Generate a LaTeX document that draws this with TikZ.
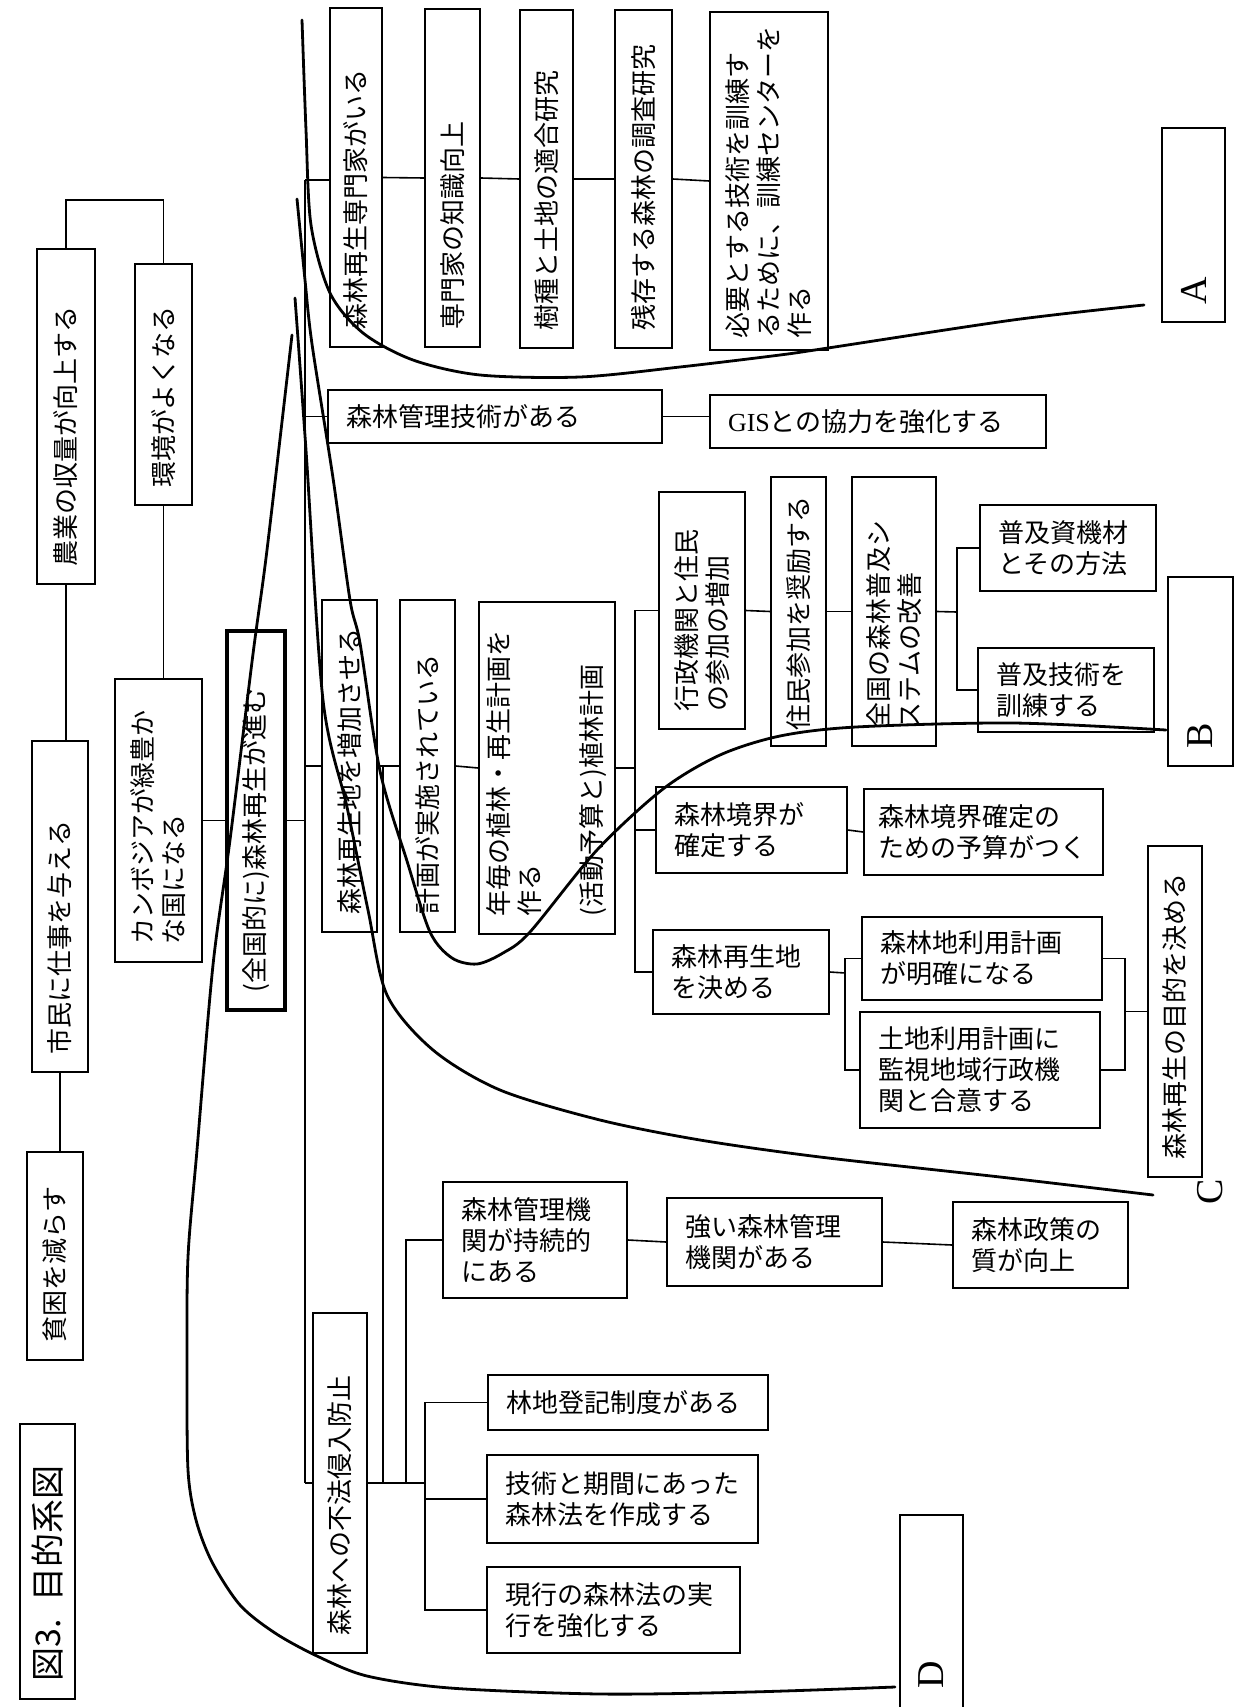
\documentclass[tikz,border=0pt]{standalone}
\usepackage{fontspec}
\setmainfont{Noto Sans CJK JP}
\newfontfamily\lettfont{Liberation Serif}
\tikzset{
    goal/.style={
           rectangle,
           draw=black, line width=1.6pt,
           inner xsep=18pt, inner ysep=0pt,
           align=left,
           font=\fontsize{26}{31}\selectfont,
           },
}
\tikzset{
    upgoal/.style={
           goal,
           rotate=90,
           },
}
\tikzset{
    letter/.style={font=\lettfont\fontsize{38}{38}\selectfont},
    link/.style={line width=1.6pt},
    freehand/.style={line width=2.8pt, line cap=round, line join=round},
}

\begin{document}
\begin{tikzpicture}[x=1pt,y=-1pt]
\fill[white] (0,0) rectangle (1236,1707);
\useasboundingbox (0,0) rectangle (1236,1707);

\node[upgoal, text width=299pt, minimum height=58pt] (nogyo) at (66,416.5) {農業の収量が向上する};
\node[upgoal, text width=205pt, minimum height=57pt] (kankyo) at (163.5,384.5) {環境がよくなる};
\node[upgoal, text width=295pt, minimum height=56pt] (shimin) at (60,906.5) {市民に仕事を与える};
\node[upgoal, text width=172pt, minimum height=56pt] (hinkon) at (55,1256) {貧困を減らす};
\node[upgoal, text width=239pt, minimum height=55pt, font=\fontsize{34}{40}\selectfont] (title) at (47.5,1561.5) {図3. 目的系図};
\node[upgoal, text width=247pt, minimum height=87pt] (kambo) at (158.5,820.5) {カンボジアが緑豊か\\な国になる};
\node[upgoal, line width=4.5pt, text width=343pt, minimum height=58pt] (zenkoku) at (256,820.5) {(全国的に)森林再生が進む};

\node[upgoal, text width=303pt, minimum height=52pt] (senmon) at (356,177.5) {森林再生専門家がいる};
\node[upgoal, text width=302pt, minimum height=55pt] (chishiki) at (452.5,178) {専門家の知識向上};
\node[upgoal, text width=302pt, minimum height=53pt] (jushu) at (546.5,179) {樹種と土地の適合研究};
\node[upgoal, text width=302pt, minimum height=57pt] (zanzon) at (643.5,179) {残存する森林の調査研究};
\node[upgoal, inner xsep=12pt, text width=314pt, minimum height=118pt] (kunren) at (769,181) {必要とする技術を訓練す\\るために、訓練センターを\\作る};
\node[upgoal, letter, text width=158pt, minimum height=63pt] (boxA) at (1193.5,225) {A};

\node[goal, text width=298pt, minimum height=53pt] (kanri) at (495,416.5) {森林管理技術がある};
\node[goal, text width=300pt, minimum height=53pt] (gis) at (878,421.5) {{\lettfont GIS}との協力を強化する};

\node[upgoal, text width=296pt, minimum height=55pt] (zoka) at (349.5,766) {森林再生地を増加させる};
\node[upgoal, text width=296pt, minimum height=55pt] (jisshi) at (427.5,766) {計画が実施されている};
\node[upgoal, text width=296pt, minimum height=136pt] (nengo) at (547,768) {年毎の植林・再生計画を\\作る\\[31pt](活動予算と)植林計画};
\node[upgoal, text width=201pt, minimum height=86pt] (gyosei) at (702,610.5) {行政機関と住民\\の参加の増加};
\node[upgoal, inner xsep=16pt, text width=237pt, minimum height=55pt] (jumin) at (798.5,611.5) {住民参加を奨励する};
\node[upgoal, text width=233pt, minimum height=84pt] (fukyu) at (894,611.5) {全国の森林普及シ\\ステムの改善};
\node[goal, text width=140pt, minimum height=86pt] (shizai) at (1068,548) {普及資機材\\とその方法};
\node[goal, text width=140pt, minimum height=84pt] (gijutsu) at (1066,690) {普及技術を\\訓練する};
\node[upgoal, letter, text width=153pt, minimum height=65pt] (boxB) at (1200.5,671.5) {B};
\node[goal, text width=155pt, minimum height=86pt] (kyokai) at (751.5,830) {森林境界が\\確定する};
\node[goal, inner xsep=14pt, text width=211pt, minimum height=86pt] (yosan) at (983.5,832) {森林境界確定の\\ための予算がつく};
\node[goal, text width=140pt, minimum height=84pt] (kettei) at (741,972) {森林再生地\\を決める};
\node[goal, text width=204pt, minimum height=83pt] (riyo) at (982,958.5) {森林地利用計画\\が明確になる};
\node[goal, text width=204pt, minimum height=116pt] (goi) at (980,1070) {土地利用計画に\\監視地域行政機\\関と合意する};
\node[upgoal, text width=295pt, minimum height=54pt] (mokuteki) at (1175,1011.5) {森林再生の目的を決める};
\node[letter, rotate=90] (labC) at (1210,1192) {C};

\node[upgoal, text width=304pt, minimum height=54pt] (fuho) at (340,1483) {森林への不法侵入防止};
\node[goal, text width=148pt, minimum height=116pt] (jizoku) at (535,1240) {森林管理機\\関が持続的\\にある};
\node[goal, text width=179pt, minimum height=88pt] (tsuyoi) at (774.5,1242) {強い森林管理\\機関がある};
\node[goal, text width=139pt, minimum height=86pt] (seisaku) at (1040.5,1245) {森林政策の\\質が向上};
\node[goal, text width=244pt, minimum height=55pt] (toki) at (628,1402.5) {林地登記制度がある};
\node[goal, text width=235pt, minimum height=88pt] (hoan) at (622.5,1499) {技術と期間にあった\\森林法を作成する};
\node[goal, text width=217pt, minimum height=86pt] (genko) at (613.5,1610) {現行の森林法の実\\行を強化する};
\node[upgoal, letter, inner xsep=32pt, text width=141pt, minimum height=63pt] (boxD) at (931.5,1617.5) {D};

\coordinate (tTop) at (305,180);
\coordinate (tBot) at (305,1483);
\coordinate (bN) at (635,768);
\coordinate (bF) at (957,612);
\coordinate (bK) at (845,973);
\coordinate (bR) at (1125,1011.5);
\coordinate (v1) at (383,766);
\coordinate (v2) at (406,1483);
\coordinate (bL) at (425,1483);

\draw[link] (nogyo.east) -- ++(0,-48) -| (kankyo.east);
\draw[link] (nogyo.west) -- (nogyo.west |- shimin.east);
\draw[link] (shimin.west) -- (shimin.west |- hinkon.east);
\draw[link] (kankyo.west) -- (kankyo.west |- kambo.east);
\draw[link] (kambo.south) -- (zenkoku.north);
\draw[link] (zenkoku.south) -- (zenkoku.south -| tTop);
\draw[link] (tTop) -- (tBot);
\draw[link] (tTop) -- (tTop -| senmon.north);
\draw[link] (senmon.south) -- (chishiki.north);
\draw[link] (chishiki.south) -- (jushu.north);
\draw[link] (jushu.south) -- (zanzon.north);
\draw[link] (zanzon.south) -- (kunren.north);
\draw[link] (tTop |- kanri.west) -- (kanri.west);
\draw[link] (kanri.east) -- (kanri.east -| gis.west);
\draw[link] (tTop |- zoka.north) -- (zoka.north);
\draw[link] (zoka.south) -- (jisshi.north);
\draw[link] (jisshi.south) -- (nengo.north);
\draw[link] (nengo.south) -- (bN);
\draw[link] (gyosei.north) -| (bN) |- (kettei.west);
\draw[link] (kyokai.west) -- (kyokai.west -| bN);
\draw[link] (gyosei.south) -- (jumin.north);
\draw[link] (jumin.south) -- (fukyu.north);
\draw[link] (fukyu.south) -- (bF);
\draw[link] (shizai.west) -| (bF) |- (gijutsu.west);
\draw[link] (kyokai.east) -- (yosan.west);
\draw[link] (kettei.east) -- (bK);
\draw[link] (riyo.west) -| (bK) |- (goi.west);
\draw[link] (riyo.east) -| (bR) |- (goi.east);
\draw[link] (bR) -- (mokuteki.north);
\draw[link] (v1) -- (v1 |- tBot);
\draw[link] (tBot) -- (fuho.north);
\draw[link] (fuho.south) -- (bL);
\draw[link] (toki.west) -| (bL) |- (genko.west);
\draw[link] (hoan.west) -- (hoan.west -| bL);
\draw[link] (v2) |- (jizoku.west);
\draw[link] (jizoku.east) -- (tsuyoi.west);
\draw[link] (tsuyoi.east) -- (seisaku.west);

\draw[freehand] plot[smooth] coordinates {(302,20) (306,130) (311,225) (330,293) (363,333) (413,360) (480,375) (580,377) (680,367) (780,355) (828,348) (1013,320) (1144,305)};
\draw[freehand] plot[smooth] coordinates {(297,199) (305,280) (312,344) (333,478) (350,600) (360,643) (380,771) (407,861) (430,932) (452,958) (477,964) (503,953) (530,932) (597,850) (663,789) (720,755) (780,736) (856,727) (1013,723) (1166,730)};
\draw[freehand] plot[smooth] coordinates {(295,298) (306,450) (323,700) (347,807) (368,910) (387,995) (433,1050) (500,1090) (600,1120) (700,1140) (820,1157) (1000,1177) (1153,1195)};
\draw[freehand] plot[smooth] coordinates {(292,335) (267,550) (253,654) (230,840) (213,965) (197,1150) (188,1257) (187,1363) (188,1470) (196,1520) (212,1562) (240,1605) (275,1633) (317,1656) (367,1676) (450,1688) (600,1694) (750,1692) (895,1687)};
\end{tikzpicture}
\end{document}
